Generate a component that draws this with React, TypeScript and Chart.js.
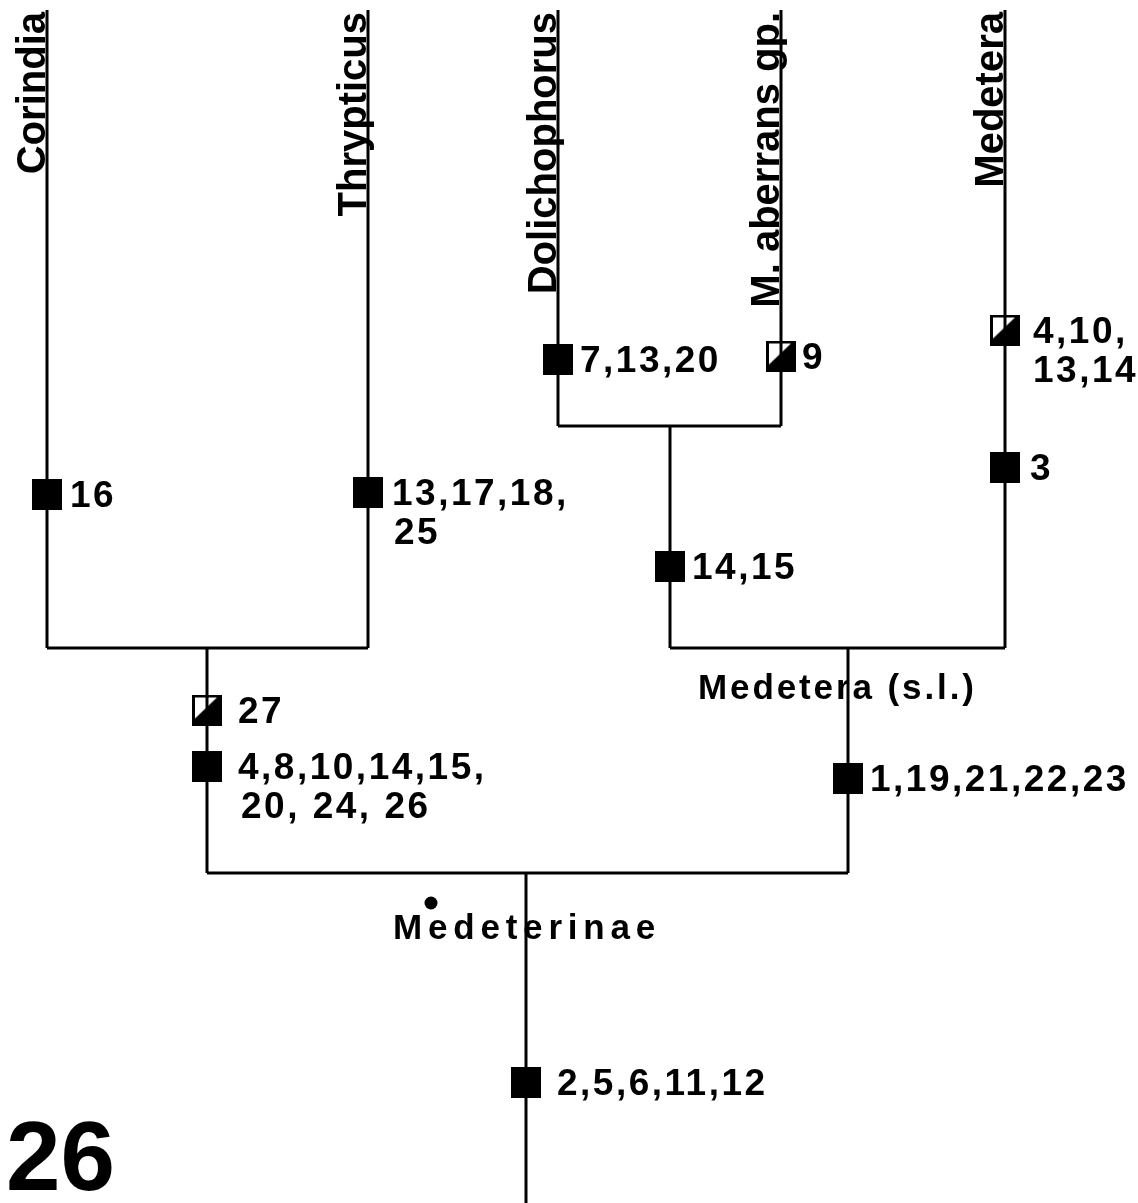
import React, { useEffect, useRef } from "react";
import { Chart, registerables } from "chart.js";

Chart.register(...registerables);

// ---------------- Data ----------------
// terminal taxa (branch tips)
const taxa = ["Corindia", "Thrypticus", "Dolichophorus", "M. aberrans gp.", "Medetera"];
const taxonX = [47, 368, 558, 781, 1005];
const taxonTipY = [10, 10, 10, 10, 10];
const taxonBaseY = [648, 648, 426, 426, 648];

// internal clades: horizontal join + stem going down
const cladeNames = ["", "", "Medetera (s.l.)", "Medeterinae"];
const cladeLeftX = [47, 558, 670, 207];
const cladeRightX = [368, 781, 1005, 848];
const cladeY = [648, 426, 648, 873];
const stemX = [207, 670, 848, 526];
const stemBaseY = [873, 648, 873, 1203];

// character-state changes on branches
const charBranchX = [47, 368, 558, 781, 1005, 1005, 670, 207, 207, 848, 526];
const charY = [494, 492, 359, 356, 330, 467, 566, 710, 766, 778, 1082];
const charHalf = [false, false, false, true, true, false, false, true, false, false, false];
const charLabels = [
  ["16"],
  ["13,17,18,", "25"],
  ["7,13,20"],
  ["9"],
  ["4,10,", "13,14"],
  ["3"],
  ["14,15"],
  ["27"],
  ["4,8,10,14,15,", "20, 24, 26"],
  ["1,19,21,22,23"],
  ["2,5,6,11,12"],
];

const figureNumber = "26";

// ---------------- Layout / style ----------------
const W = 1138;
const H = 1203;
const FONT = '"Liberation Sans", Arial, Helvetica, sans-serif';
const labelGap = [23, 24, 22, 21, 28, 25, 22, 31, 31, 22, 31];
const secondLineIndent = [0, 2, 0, 0, 0, 0, 0, 0, 3, 0, 0];
const lineGap = 39;
const textDy = 3;
const cladeLabelPos = [null, null, { x: 698, y: 686, sp: 2.9 }, { x: 393, y: 926, sp: 5.8 }];
const nodeDot = { x: 431, y: 903, r: 6.5 };
const figPos = { x: 6, y: 1190 };

function makeSquare(half: boolean): HTMLCanvasElement {
  const w = 30;
  const h = 31;
  const c = document.createElement("canvas");
  c.width = w;
  c.height = h;
  const g = c.getContext("2d")!;
  g.fillStyle = "#000";
  g.fillRect(0, 0, w, h);
  if (half) {
    g.fillStyle = "#fff";
    g.beginPath();
    g.moveTo(3, 3);
    g.lineTo(w - 5, 3);
    g.lineTo(3, h - 7);
    g.closePath();
    g.fill();
  }
  return c;
}

export default function App() {
  const ref = useRef<HTMLCanvasElement | null>(null);

  useEffect(() => {
    document.body.style.margin = "0";
    document.body.style.background = "#fff";
    const canvas = ref.current;
    if (!canvas) return;

    const seg = (x1: number, y1: number, x2: number, y2: number) => ({
      type: "scatter" as const,
      data: [
        { x: x1, y: y1 },
        { x: x2, y: y2 },
      ],
      showLine: true,
      borderColor: "#000",
      borderWidth: 3,
      pointRadius: 0,
      fill: false,
      clip: false as any,
    });

    const datasets: any[] = [];
    taxa.forEach((_, i) => datasets.push(seg(taxonX[i], taxonTipY[i], taxonX[i], taxonBaseY[i])));
    cladeY.forEach((y, i) => {
      datasets.push(seg(cladeLeftX[i], y, cladeRightX[i], y));
      datasets.push(seg(stemX[i], y, stemX[i], stemBaseY[i]));
    });

    const full = makeSquare(false);
    const half = makeSquare(true);
    datasets.push({
      type: "scatter",
      data: charBranchX.map((x, i) => ({ x, y: charY[i] })),
      pointStyle: charHalf.map((h) => (h ? half : full)),
      pointRadius: 15,
      showLine: false,
      clip: false,
    });
    datasets.push({
      type: "scatter",
      data: [{ x: nodeDot.x, y: nodeDot.y }],
      pointStyle: "circle",
      pointRadius: nodeDot.r,
      backgroundColor: "#000",
      borderColor: "#000",
      borderWidth: 0,
      showLine: false,
      clip: false,
    });

    const textPlugin = {
      id: "cladeText",
      afterDatasetsDraw(chart: any) {
        const ctx = chart.ctx as CanvasRenderingContext2D;
        const xs = chart.scales.x;
        const ys = chart.scales.y;
        ctx.save();
        ctx.fillStyle = "#000";

        // vertical taxon names
        ctx.font = `bold 40px ${FONT}`;
        (ctx as any).letterSpacing = "0px";
        taxa.forEach((name, i) => {
          const px = xs.getPixelForValue(taxonX[i]) - 2;
          const py = ys.getPixelForValue(taxonTipY[i]) + 2;
          ctx.save();
          ctx.translate(px, py);
          ctx.rotate(-Math.PI / 2);
          ctx.textAlign = "right";
          ctx.textBaseline = "alphabetic";
          ctx.fillText(name, 0, 0);
          ctx.restore();
        });

        // character labels
        ctx.font = `bold 37px ${FONT}`;
        (ctx as any).letterSpacing = "2.5px";
        ctx.textAlign = "left";
        ctx.textBaseline = "middle";
        charLabels.forEach((lines, i) => {
          const px = xs.getPixelForValue(charBranchX[i]) + labelGap[i];
          const py = ys.getPixelForValue(charY[i]) + textDy;
          lines.forEach((t, k) => {
            ctx.fillText(t, px + (k > 0 ? secondLineIndent[i] : 0), py + k * lineGap);
          });
        });

        // clade names
        ctx.font = `bold 35px ${FONT}`;
        cladeNames.forEach((n, i) => {
          const p = cladeLabelPos[i];
          if (!n || !p) return;
          (ctx as any).letterSpacing = `${p.sp}px`;
          ctx.fillText(n, xs.getPixelForValue(p.x), ys.getPixelForValue(p.y) + textDy);
        });

        // figure number
        (ctx as any).letterSpacing = "0px";
        ctx.font = `bold 98px ${FONT}`;
        ctx.textBaseline = "alphabetic";
        ctx.fillText(figureNumber, xs.getPixelForValue(figPos.x), ys.getPixelForValue(figPos.y));
        ctx.restore();
      },
    };

    const chart = new Chart(canvas, {
      type: "scatter",
      data: { datasets },
      options: {
        animation: false,
        responsive: false,
        maintainAspectRatio: false,
        layout: { padding: 0, autoPadding: false },
        plugins: { legend: { display: false }, tooltip: { enabled: false } },
        events: [],
        scales: {
          x: { type: "linear", min: 0, max: W, display: false },
          y: { type: "linear", min: 0, max: H, reverse: true, display: false },
        },
      },
      plugins: [textPlugin],
    });
    return () => chart.destroy();
  }, []);

  return (
    <div style={{ width: W, height: H, background: "#fff" }}>
      <canvas ref={ref} width={W} height={H} style={{ display: "block", width: W, height: H }} />
    </div>
  );
}
